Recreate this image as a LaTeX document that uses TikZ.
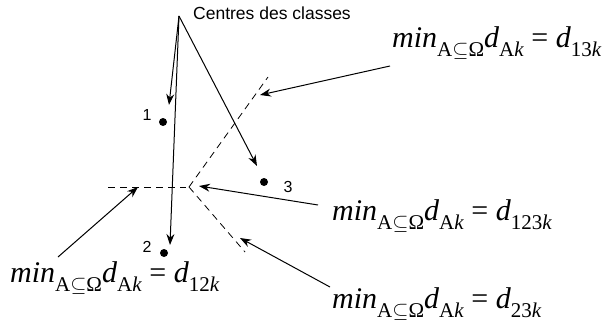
\documentclass[tikz,border=0pt]{standalone}
\usepackage{fontspec}
\setmainfont{Liberation Serif}
\newfontfamily\arialfont{Liberation Sans}
\usetikzlibrary{arrows.meta}
\newcommand\mysub[1]{\raisebox{-0.3em}{\fontsize{21}{21}\selectfont #1}}
\newcommand\minexpr[1]{\textit{min}\mysub{A$\subseteq$Ω}\textit{d}\mysub{A\textit{k}} = \textit{d}\mysub{#1\textit{k}}}
\tikzset{
  formula/.style={anchor=base west, inner sep=0pt, font=\fontsize{30}{30}\selectfont},
  lbl/.style={inner sep=0pt, font=\arialfont\fontsize{16}{16}\selectfont},
  centre/.style={circle, fill=black, inner sep=0pt, minimum size=8pt},
  arr/.style={-{Stealth[length=11pt,width=8pt]}, line width=1pt},
  boundary/.style={dash pattern=on 7pt off 5pt, line width=0.8pt}
}
\begin{document}
\begin{tikzpicture}[x=1pt,y=-1pt]
\useasboundingbox (0,0) rectangle (605,321);
% title
\node[anchor=base west, inner sep=0pt, font=\arialfont\fontsize{17.5}{17.5}\selectfont] (title) at (193,20) {Centres des classes};
\coordinate (c0) at (179,16);
% centres
\node[centre] (p1) at (163,122) {};
\node[centre] (p2) at (164,253) {};
\node[centre] (p3) at (264,182) {};
\node[lbl] (l1) at (147,115) {1};
\node[lbl] (l2) at (147,247) {2};
\node[lbl] (l3) at (288,187) {3};
% arrow tips near centres
\coordinate (t1) at (169,105);
\coordinate (t2) at (170,245);
\coordinate (t3) at (257,166);
\draw[arr] (c0) -- (t1);
\draw[arr] (c0) -- (t2);
\draw[arr] (c0) -- (t3);
% dashed boundaries
\coordinate (corner) at (189,187);
\coordinate (hend) at (108,187);
\coordinate (hcorner) at (186,187);
\coordinate (uend) at (268,77);
\coordinate (dend) at (245,252);
\draw[boundary] (hend) -- (hcorner);
\draw[boundary] (corner) -- (uend);
\draw[boundary] (corner) -- (dend);
% formulas
\node[formula] (f13) at (392,48) {\minexpr{13}};
\node[formula] (f123) at (332,220) {\minexpr{123}};
\node[formula] (f23) at (332,308) {\minexpr{23}};
\node[formula] (f12) at (10,282) {\minexpr{12}};
% arrows from formulas
\coordinate (s13) at (390,66);
\coordinate (e13) at (260,95);
\coordinate (s123) at (318,205);
\coordinate (e123) at (199,186);
\coordinate (s23) at (330,287);
\coordinate (e23) at (240,238);
\coordinate (s12) at (58,257);
\coordinate (e12) at (138,187);
\draw[arr] (s13) -- (e13);
\draw[arr] (s123) -- (e123);
\draw[arr] (s23) -- (e23);
\draw[arr] (s12) -- (e12);
\end{tikzpicture}
\end{document}
